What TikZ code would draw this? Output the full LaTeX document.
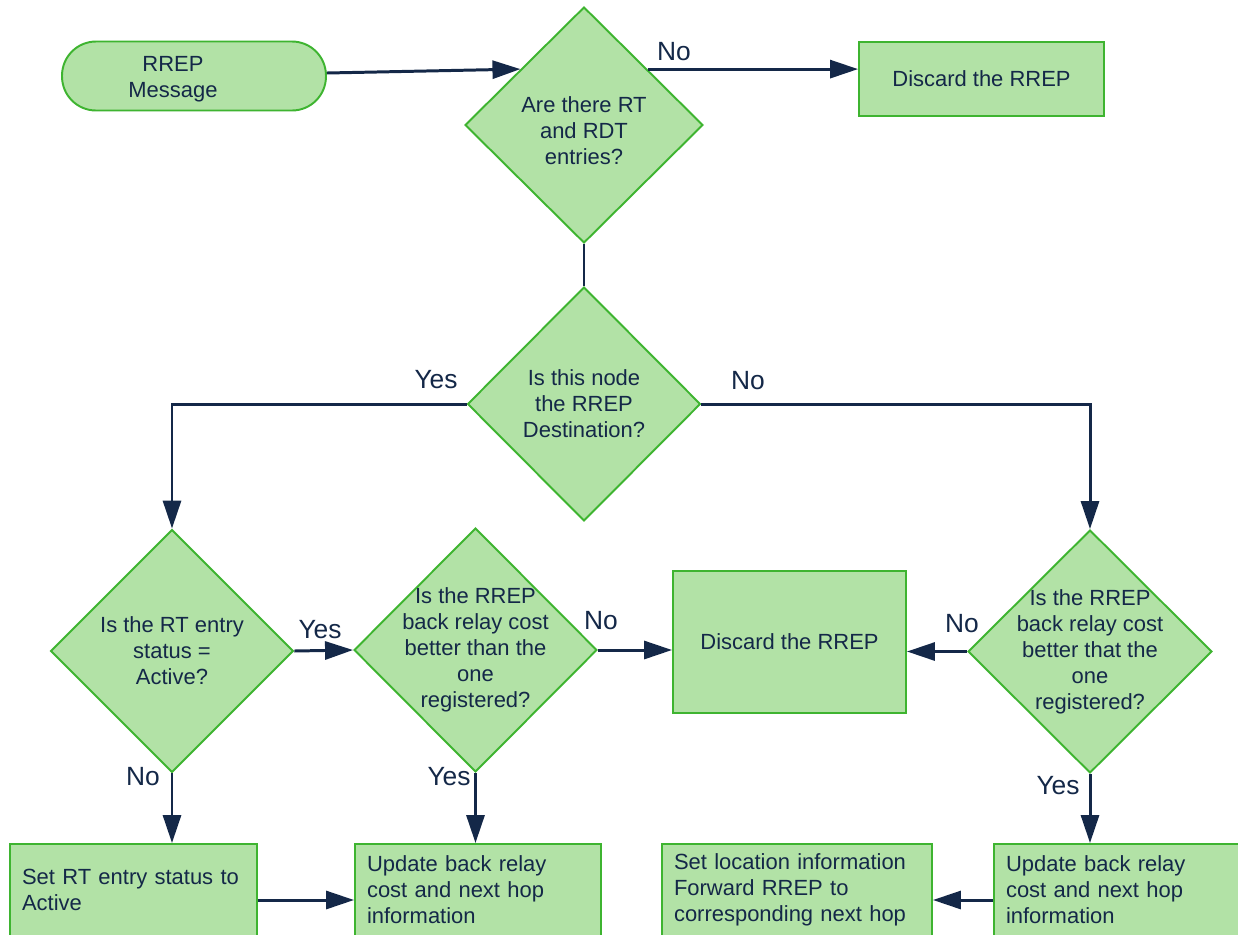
\documentclass[tikz,border=0pt]{standalone}
\usepackage{fontspec}
\setmainfont{Liberation Sans}
\usetikzlibrary{shapes.geometric,arrows.meta,calc}

\definecolor{boxfill}{RGB}{178,226,166}
\definecolor{boxline}{RGB}{62,180,48}
\definecolor{navy}{RGB}{20,40,72}

\tikzset{
  shapebase/.style={draw=boxline, fill=boxfill, line width=1.1pt, inner sep=0pt, text=navy},
  terminal/.style={shapebase, rectangle, rounded corners=0.68cm, minimum width=5.28cm, minimum height=1.38cm},
  decision/.style={shapebase, diamond},
  plainbox/.style={shapebase, rectangle, font=\fontsize{12.5}{14.8}\selectfont, align=center},
  actionbox/.style={shapebase, rectangle, minimum height=1.84cm, inner xsep=0.24cm, align=left, font=\fontsize{12.5}{14.8}\selectfont},
  qtext/.style={text=navy, align=center, font=\fontsize{12.5}{14.8}\selectfont, inner sep=0pt},
  lbl/.style={text=navy, font=\fontsize{15}{18}\selectfont, inner sep=0pt},
  flow/.style={draw=navy, line width=1.7pt, -{Triangle[length=0.56cm, width=0.36cm]}},
  link/.style={draw=navy, line width=1.7pt}
}

\begin{document}
\begin{tikzpicture}[x=0.02cm, y=-0.02cm]
\clip (0,0) rectangle (1238,934);
\fill[white] (0,0) rectangle (1238,934);

% shapes
\node[terminal] (start) at (194,76) {};
\node[qtext] (starttext) at ([xshift=-0.42cm, yshift=-0.06cm]start.center) {RREP\\Message};

\node[decision, minimum width=4.76cm, minimum height=4.72cm] (entries) at (584,125) {};
\node[qtext] (entriestext) at ([yshift=-0.12cm]entries.center) {Are there RT\\and RDT\\entries?};

\node[plainbox, minimum width=4.9cm, minimum height=1.48cm] (discardA) at (981.5,79) {Discard the RREP};

\node[decision, minimum width=4.66cm, minimum height=4.68cm] (dest) at (584,404) {};
\node[qtext] (desttext) at (dest.center) {Is this node\\the RREP\\Destination?};

\node[decision, minimum width=4.86cm, minimum height=4.86cm] (active) at (172,651) {};
\node[qtext] (activetext) at (active.center) {Is the RT entry\\status =\\Active?};

\node[decision, minimum width=4.86cm, minimum height=4.88cm] (costL) at (475.5,650) {};
\node[qtext] (costLtext) at (costL.center) {Is the RREP\\back relay cost\\better than the\\one\\registered?};

\node[plainbox, minimum width=4.66cm, minimum height=2.84cm] (discardB) at (789.5,642) {Discard the RREP};

\node[decision, minimum width=4.88cm, minimum height=4.86cm] (costR) at (1090,651.5) {};
\node[qtext] (costRtext) at (costR.center) {Is the RREP\\back relay cost\\better that the\\one\\registered?};

\node[actionbox, text width=4.46cm] (setactive) at (133.5,890) {Set RT entry status to\\Active};
\node[actionbox, text width=4.44cm] (updateL) at (478,890) {Update back relay\\cost and next hop\\information};
\node[actionbox, text width=4.92cm] (forward) at (797,890) {Set location information\\Forward RREP to\\corresponding next hop};
\node[actionbox, text width=4.44cm] (updateR) at (1117,890) {Update back relay\\cost and next hop\\information};

% connectors
\draw[flow] ([yshift=0.06cm]start.east) -- ($(entries.west)!0.47!(entries.north)$);
\coordinate (entriesNE) at ($(entries.east)!0.47!(entries.north)$);
\draw[flow] (entriesNE) -- (entriesNE -| discardA.west);
\draw[link] (entries.south) -- (dest.north);
\draw[flow] (dest.west) -| (active.north);
\draw[flow] (dest.east) -| (costR.north);
\draw[flow] (active.east) -- (costL.west);
\draw[flow] (costL.east) -- (costL.east -| discardB.west);
\draw[flow] (costR.west) -- (costR.west -| discardB.east);
\draw[flow] (active.south) -- (active.south |- setactive.north);
\draw[flow] (costL.south) -- (costL.south |- updateL.north);
\draw[flow] (costR.south) -- (costR.south |- updateR.north);
\coordinate (setactiveE) at ($(setactive.east)+(0,10)$);
\draw[flow] (setactiveE) -- (setactiveE -| updateL.west);
\coordinate (updateRW) at ($(updateR.west)+(0,10)$);
\draw[flow] (updateRW) -- (updateRW -| forward.east);

% labels
\node[lbl] (noA) at (674,52) {No};
\node[lbl] (yesA) at (436,380) {Yes};
\node[lbl] (noB) at (748,381) {No};
\node[lbl] (yesB) at (320,630) {Yes};
\node[lbl] (noC) at (601,621) {No};
\node[lbl] (noD) at (962,624) {No};
\node[lbl] (noE) at (143,777) {No};
\node[lbl] (yesC) at (449,777) {Yes};
\node[lbl] (yesD) at (1058,786) {Yes};
\end{tikzpicture}
\end{document}
